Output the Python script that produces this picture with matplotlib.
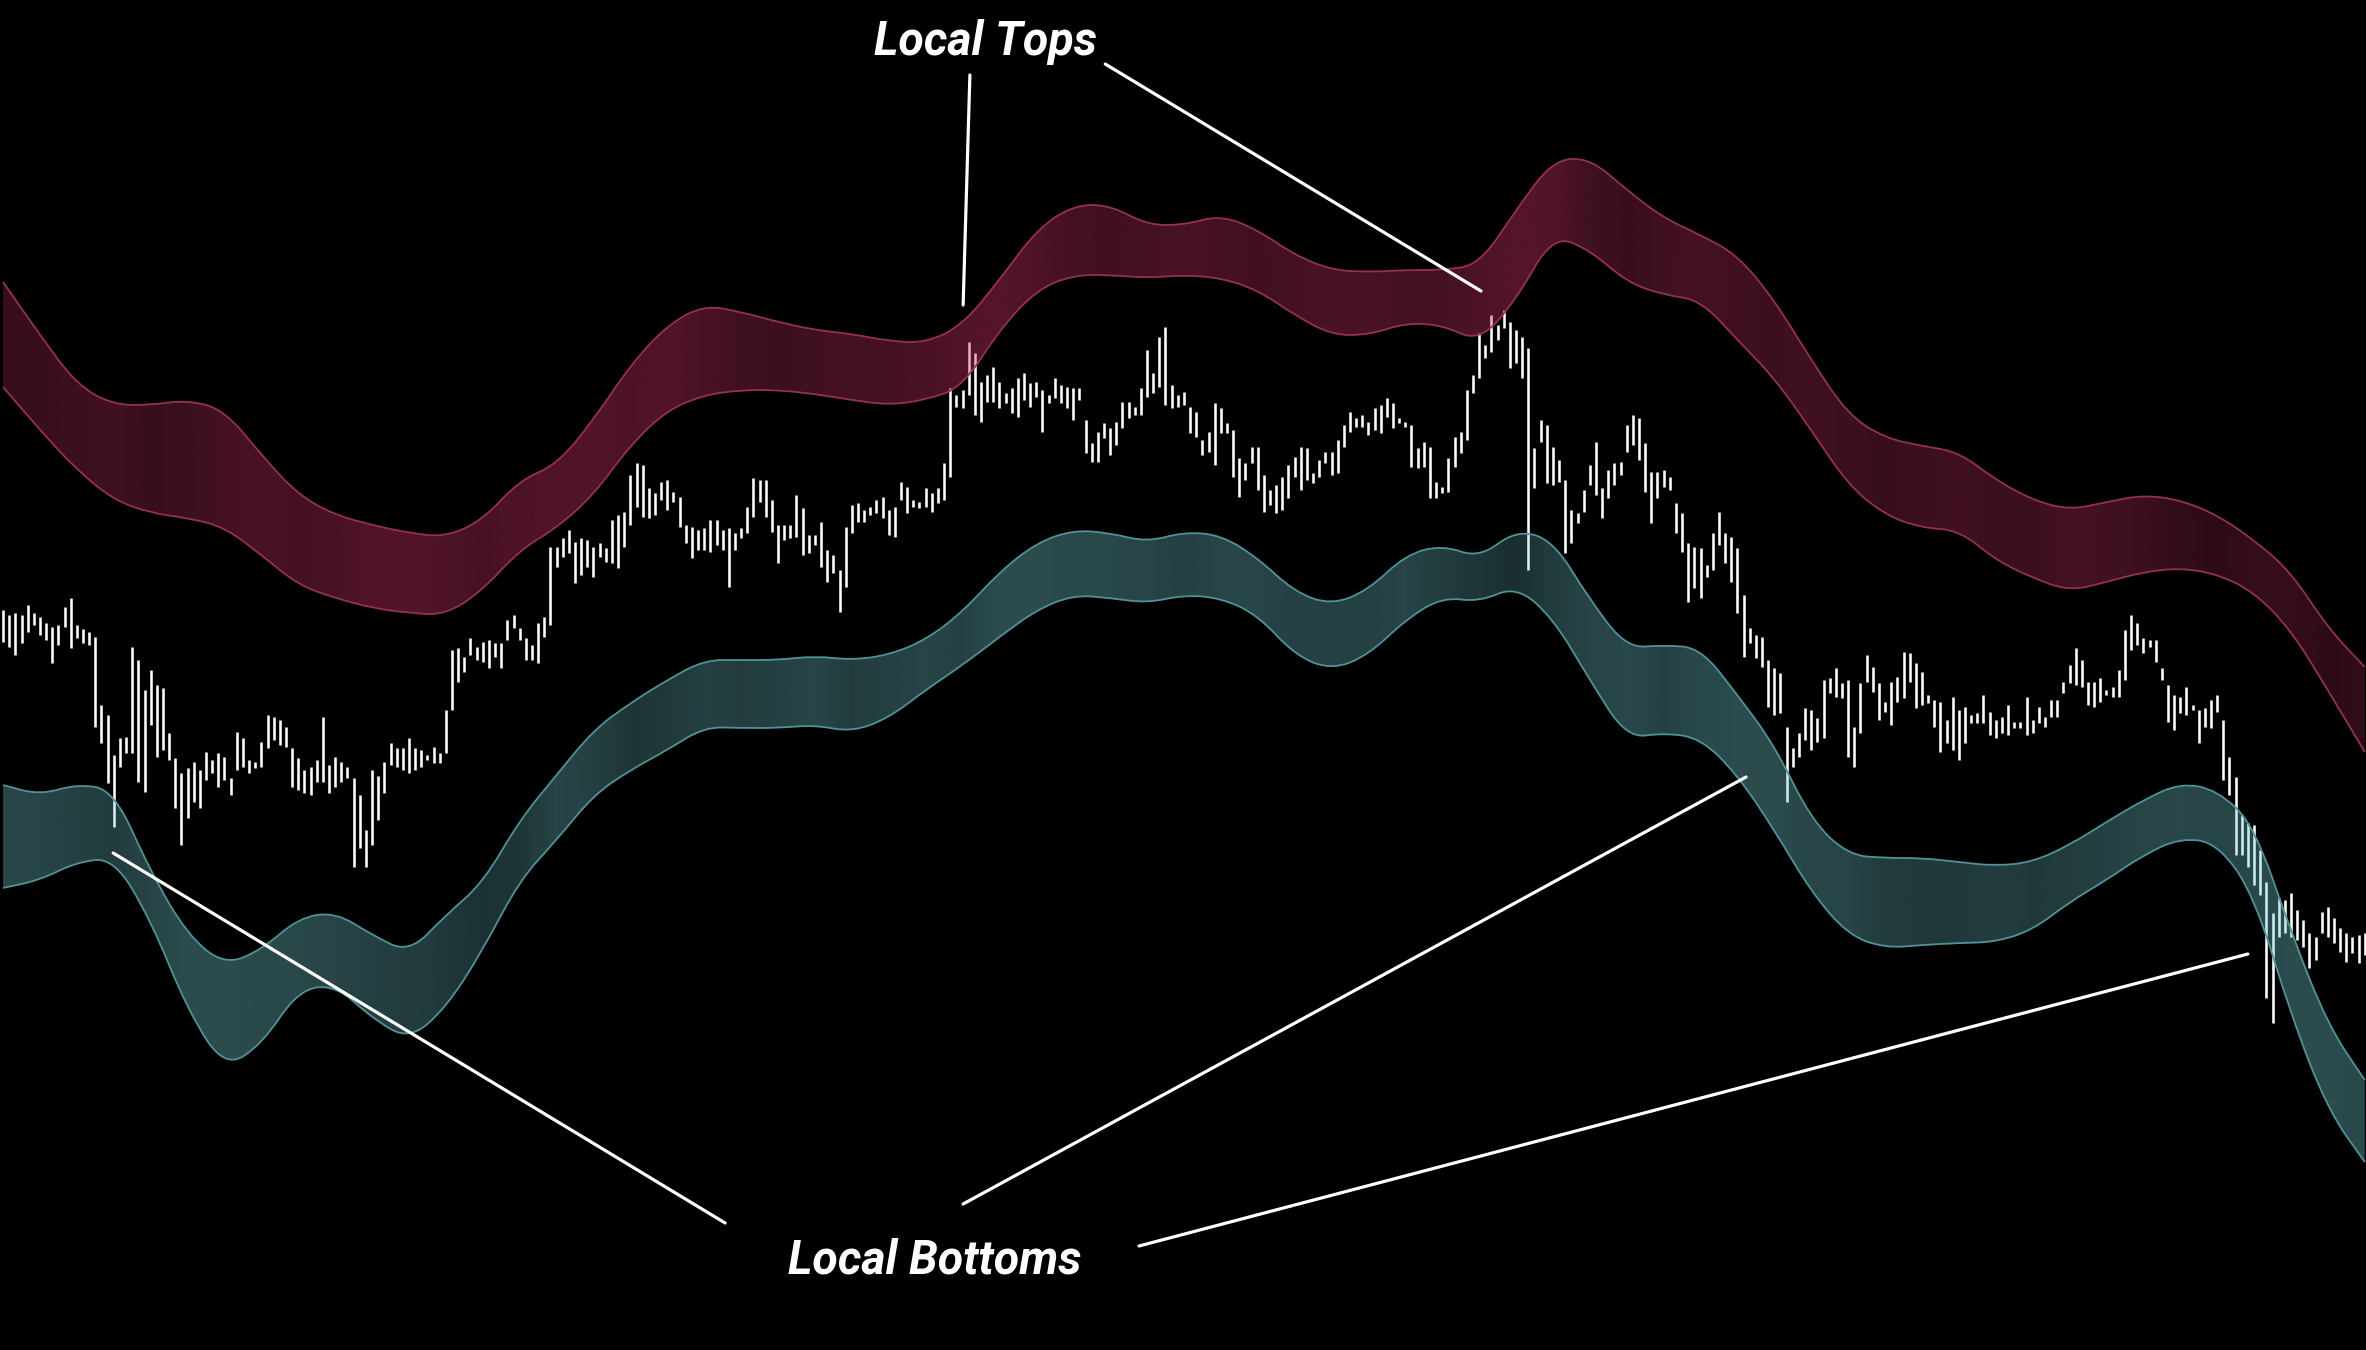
import numpy as np
import matplotlib.pyplot as plt
from matplotlib.path import Path
from matplotlib.patches import PathPatch
from matplotlib.colors import to_rgb

# price bars (one bar per index)
bar_high = [
    74.0, 73.5, 73.7, 73.5, 74.5, 73.7, 73.3, 72.7, 72.3, 72.5,
    74.3, 75.2, 72.5, 72.1, 71.8, 71.3, 64.5, 63.5, 59.5, 61.2,
    61.3, 70.3, 69.0, 66.0, 68.0, 66.5, 66.2, 61.7, 59.2, 57.7,
    58.2, 58.8, 58.0, 59.8, 59.0, 59.7, 59.3, 57.2, 61.8, 61.2,
    59.0, 58.8, 60.8, 63.5, 63.3, 63.0, 62.3, 60.2, 59.2, 58.0,
    58.3, 59.0, 63.3, 58.5, 59.3, 58.8, 58.3, 57.2, 55.5, 52.0,
    58.0, 57.4, 58.8, 60.7, 60.2,
    60.2, 61.2, 60.2, 60.0, 59.5, 60.3, 59.7, 64.0, 70.0, 70.2,
    69.3, 71.2, 70.3, 70.8, 71.0, 70.7, 70.7, 73.0, 73.5, 72.2,
    71.2, 70.5, 72.7, 73.3, 80.3, 80.3, 81.2, 82.0, 80.8, 81.2,
    81.0, 80.3, 80.7, 80.2, 83.0, 83.5, 83.8, 87.5, 88.7, 88.5,
    86.2, 85.7, 86.8, 87.0, 85.8, 85.3, 82.5, 82.3, 82.0, 82.2,
    83.0, 83.0, 82.0, 82.2, 81.7, 82.2, 84.3, 87.2, 87.0, 87.0,
    85.0, 82.5, 82.5, 82.5, 85.5,
    84.2, 81.5, 81.5, 82.8, 80.0, 79.5, 78.0, 82.3, 84.5, 84.7,
    84.0, 84.3, 85.0, 85.3, 84.0, 84.3, 86.8, 86.3, 85.0, 84.8,
    86.2, 85.7, 86.2, 88.7, 96.2, 95.5, 96.0, 100.8, 99.7, 96.8,
    97.5, 98.3, 96.8, 95.7, 96.2, 97.2, 97.7, 96.7, 96.8, 96.0,
    95.5, 97.2, 96.5, 96.3, 96.2, 96.2, 93.0, 90.7, 91.8, 92.7,
    92.2, 92.8, 94.8, 94.8, 94.3, 96.2, 100.0, 97.7, 101.3, 102.3,
    96.5, 95.5, 95.8, 94.3, 93.8,
    91.0, 91.8, 94.7, 94.2, 92.7, 92.0, 89.2, 88.7, 90.3, 90.3,
    87.5, 86.0, 86.5, 87.3, 88.5, 89.3, 90.3, 90.2, 87.7, 89.0,
    89.8, 89.8, 91.0, 92.5, 93.8, 93.2, 93.5, 92.8, 94.2, 94.5,
    95.2, 94.7, 93.2, 92.8, 92.5, 90.2, 90.8, 90.3, 86.8, 86.3,
    89.2, 91.3, 91.8, 96.0, 97.5, 101.7, 100.5, 103.5, 102.5, 104.0,
    102.8, 102.0, 101.3, 100.2, 90.2, 93.0, 92.5, 90.3, 89.0,
    87.0, 84.0, 83.7, 86.0, 88.5, 90.8, 86.2, 88.0, 88.7, 88.8,
    92.5, 93.5, 93.2, 90.7, 87.8, 87.8, 88.0, 87.3, 84.7, 83.7,
    80.7, 80.3, 80.2, 78.5, 81.7, 83.8, 81.7, 81.3, 80.2, 75.5,
    72.2, 71.5, 71.3, 69.0, 68.2, 67.7, 62.3, 60.2, 61.7, 64.2,
    64.0, 63.2, 67.0, 67.2, 68.2, 66.7, 67.0, 62.3, 66.7, 69.5,
    68.3, 66.7, 64.8, 66.8, 67.3, 69.8, 69.7, 68.7, 67.8, 65.5,
    65.0, 64.8, 63.0, 65.3,
    64.0, 64.3, 63.5, 63.7, 65.5, 63.8, 63.0, 63.3, 64.5, 62.8,
    62.8, 65.3, 63.0, 64.3, 63.3, 65.0, 65.0, 66.8, 68.5, 70.2,
    69.0, 66.8, 66.8, 67.2, 66.0, 66.3, 68.0, 72.0, 73.5, 72.7,
    71.2, 71.0, 71.0, 68.2, 66.5, 65.5, 65.3, 66.3, 64.5, 64.0,
    64.2, 65.0, 65.5, 63.0, 59.3, 57.3, 53.5, 52.7, 52.5, 50.0,
    46.8, 43.7, 45.2, 45.0, 45.7, 44.0, 43.0, 41.7, 41.3, 43.8,
    44.3, 43.2, 42.2, 41.7, 41.3, 41.5, 41.7,
]
bar_low = [
    70.8, 70.3, 69.5, 70.7, 71.8, 72.5, 71.5, 71.0, 68.7, 70.5,
    72.3, 70.2, 71.2, 70.7, 70.5, 62.3, 60.7, 56.7, 52.3, 58.3,
    59.7, 59.7, 56.8, 55.8, 62.5, 59.3, 60.0, 59.0, 54.2, 50.5,
    53.2, 54.8, 54.2, 57.0, 57.7, 56.3, 57.0, 55.5, 58.0, 58.3,
    57.7, 58.2, 58.3, 60.2, 61.0, 60.5, 60.3, 56.3, 56.0, 55.7,
    55.5, 56.8, 56.8, 55.7, 56.3, 56.8, 57.2, 48.3, 50.2, 48.3,
    50.5, 53.0, 55.7, 58.5, 58.3,
    58.0, 57.7, 58.0, 58.3, 59.0, 58.7, 58.7, 59.7, 64.0, 66.8,
    67.8, 69.5, 69.0, 68.8, 68.2, 69.3, 68.2, 71.0, 72.2, 71.0,
    69.0, 69.0, 68.7, 71.3, 72.5, 78.3, 79.3, 79.7, 76.7, 77.5,
    78.3, 77.3, 79.3, 78.8, 78.7, 78.2, 80.3, 82.5, 84.3, 83.3,
    83.2, 83.5, 85.0, 84.0, 84.8, 82.3, 80.7, 79.2, 80.0, 80.0,
    79.8, 80.5, 80.0, 76.3, 80.0, 81.2, 81.7, 83.3, 84.8, 83.3,
    81.8, 78.7, 81.0, 81.2, 81.3,
    79.5, 79.7, 80.5, 78.3, 76.8, 77.7, 73.8, 76.3, 81.7, 82.8,
    82.8, 83.5, 83.7, 83.2, 81.5, 81.3, 85.0, 83.7, 84.3, 84.2,
    84.3, 83.8, 84.7, 85.0, 87.3, 94.3, 94.2, 95.5, 93.5, 92.8,
    94.8, 94.8, 94.2, 94.7, 93.7, 93.3, 95.0, 94.3, 95.3, 91.8,
    94.7, 95.2, 94.7, 94.2, 93.0, 95.0, 89.7, 88.8, 88.8, 91.2,
    89.5, 90.5, 92.2, 93.2, 93.5, 93.5, 95.3, 95.7, 96.3, 94.5,
    94.2, 94.3, 94.5, 91.7, 91.3,
    89.5, 89.8, 88.5, 91.7, 91.7, 87.3, 85.3, 87.0, 88.7, 86.0,
    83.8, 84.5, 83.7, 84.0, 85.2, 87.3, 86.0, 87.0, 86.7, 87.3,
    88.7, 87.5, 87.7, 90.3, 91.8, 92.3, 92.3, 91.5, 92.0, 91.7,
    93.3, 92.2, 92.7, 92.3, 88.3, 88.2, 88.3, 85.2, 85.2, 85.7,
    85.8, 88.3, 89.7, 91.0, 95.7, 97.2, 99.2, 99.8, 101.0, 102.2,
    98.2, 98.7, 97.2, 78.0, 86.2, 90.8, 86.7, 86.5, 86.8,
    79.7, 80.7, 82.7, 83.8, 86.5, 85.5, 83.2, 85.2, 86.5, 87.5,
    89.8, 90.5, 89.0, 85.8, 82.7, 85.2, 86.3, 86.0, 81.7, 79.8,
    74.8, 76.2, 75.2, 77.3, 78.0, 80.5, 78.7, 76.8, 73.7, 69.3,
    70.7, 69.2, 68.3, 64.3, 63.5, 63.7, 54.8, 58.3, 59.3, 61.0,
    60.0, 60.8, 61.2, 65.7, 65.3, 65.2, 59.3, 58.3, 61.7, 66.8,
    65.8, 63.0, 63.8, 62.5, 64.8, 65.2, 66.8, 64.2, 64.5, 64.7,
    62.3, 59.8, 60.7, 60.0,
    59.0, 60.7, 62.7, 62.7, 62.7, 61.5, 61.2, 61.7, 61.5, 62.2,
    62.2, 61.5, 61.7, 62.7, 62.3, 63.3, 63.3, 65.7, 66.7, 66.5,
    66.3, 64.5, 64.3, 64.8, 65.5, 65.3, 65.3, 67.0, 70.0, 70.5,
    69.7, 70.3, 68.8, 67.0, 62.8, 62.0, 63.7, 63.5, 64.0, 60.7,
    62.3, 62.2, 63.8, 57.0, 55.5, 49.5, 49.5, 48.3, 46.5, 45.5,
    35.2, 32.7, 41.3, 41.7, 41.3, 41.0, 40.3, 38.2, 39.0, 41.7,
    41.3, 40.7, 39.8, 38.8, 39.7, 38.7, 39.5,
]

# band edges, sampled every 6 bars
band_x = list(range(0, 385, 6))
red_top = [
    106.8, 101.5, 96.5, 94.5, 94.5, 95.0, 94.0, 89.5, 85.5, 83.5,
    82.5, 81.7, 81.3, 83.0, 87.0, 88.5, 93.0, 98.5, 102.5, 104.5,
    103.8, 102.8, 102.0, 101.6, 100.9, 100.7, 102.5, 107.0, 112.0, 114.5,
    114.5, 112.5, 112.5, 113.5, 112.0, 109.5, 108.0, 107.8, 108.0, 108.0,
    108.5, 114.0, 119.0, 119.2, 116.0, 113.2, 111.5, 109.5, 105.0, 99.0,
    93.5, 91.2, 90.4, 89.8, 87.0, 85.0, 84.0, 84.8, 85.5, 85.0,
    83.5, 81.0, 77.8, 72.2, 68.3,
]
red_bottom = [
    96.3, 92.0, 88.0, 85.0, 83.7, 83.2, 82.3, 79.5, 76.5, 75.2,
    74.2, 73.7, 73.5, 76.0, 80.0, 82.2, 85.5, 90.5, 94.0, 95.5,
    96.0, 96.0, 95.6, 95.0, 94.5, 95.0, 96.3, 102.0, 106.0, 107.5,
    107.5, 107.2, 107.5, 107.2, 106.0, 103.5, 101.5, 101.5, 102.7, 102.5,
    100.8, 105.0, 111.5, 110.0, 106.8, 105.5, 105.0, 101.0, 97.2, 92.0,
    86.5, 83.5, 82.2, 82.0, 79.0, 77.2, 75.9, 76.8, 77.8, 78.2,
    77.6, 75.8, 72.0, 66.0, 59.8,
]
teal_top = [
    56.5, 55.5, 56.6, 56.0, 47.8, 41.5, 38.5, 40.0, 43.2, 43.8,
    41.5, 39.7, 43.5, 46.7, 53.0, 57.5, 62.0, 64.7, 67.0, 69.0,
    69.0, 69.0, 69.4, 69.0, 69.5, 71.0, 73.8, 77.8, 80.7, 82.0,
    81.7, 80.8, 81.8, 81.5, 79.2, 75.8, 74.5, 76.0, 79.5, 80.5,
    79.2, 82.0, 81.0, 75.0, 70.2, 70.5, 70.2, 65.5, 60.5, 53.0,
    49.5, 49.2, 49.2, 48.8, 48.4, 48.8, 50.5, 52.8, 55.0, 56.7,
    56.0, 52.5, 41.8, 32.5, 27.0,
]
teal_bottom = [
    46.2, 47.0, 48.8, 49.2, 43.0, 34.0, 28.2, 30.5, 36.0, 36.5,
    33.2, 31.0, 34.2, 40.0, 47.0, 51.0, 55.5, 58.0, 60.0, 62.3,
    62.2, 62.2, 62.5, 61.8, 63.2, 66.0, 68.5, 71.3, 74.0, 75.5,
    75.2, 74.7, 75.5, 75.2, 73.5, 69.5, 68.0, 69.5, 73.0, 75.3,
    74.8, 76.4, 73.2, 67.0, 61.2, 61.7, 61.2, 57.5, 52.0, 45.8,
    41.5, 40.2, 40.5, 40.7, 40.8, 42.0, 44.8, 47.0, 49.5, 51.2,
    50.7, 45.5, 33.5, 24.0, 18.8,
]
# brightness of the band fill along x (vertical shading stripes)
red_shade = [
    0.70, 0.70, 0.75, 0.80, 0.70, 0.75, 0.85, 0.90, 0.85, 0.90,
    1.00, 1.00, 0.95, 0.90, 0.95, 1.00, 1.00, 0.95, 1.00, 0.90,
    0.80, 0.75, 0.80, 0.85, 0.85, 0.90, 1.00, 1.05, 0.95, 0.85,
    0.80, 0.85, 0.90, 0.85, 0.80, 0.85, 0.90, 0.90, 0.85, 0.85,
    0.95, 1.05, 1.00, 0.80, 0.70, 0.80, 0.85, 0.80, 0.75, 0.80,
    0.75, 0.70, 0.75, 0.80, 0.75, 0.75, 0.85, 0.80, 0.75, 0.60,
    0.55, 0.65, 0.65, 0.55, 0.60,
]
teal_shade = [
    0.95, 0.90, 0.85, 0.80, 0.90, 1.00, 1.00, 0.95, 0.95, 0.90,
    0.85, 0.80, 0.75, 0.65, 0.70, 0.90, 0.85, 0.70, 0.75, 0.85,
    0.80, 0.85, 0.90, 0.80, 0.85, 0.90, 0.85, 1.00, 1.00, 0.95,
    0.95, 0.90, 0.85, 0.90, 0.90, 0.85, 0.85, 0.85, 0.90, 0.80,
    0.70, 0.60, 0.80, 0.90, 0.95, 0.85, 0.95, 1.00, 1.00, 0.90,
    0.90, 0.80, 0.75, 0.75, 0.80, 0.75, 0.80, 0.85, 0.90, 0.95,
    0.90, 0.95, 1.00, 1.00, 0.95,
]


def smooth_path(xs, ys, start=True):
    # quadratic curves through the midpoints, so the edge reads as a smooth line
    pts = np.column_stack([xs, ys]).astype(float)
    mids = (pts[:-1] + pts[1:]) / 2
    verts = [pts[0], mids[0]]
    codes = [Path.MOVETO if start else Path.LINETO, Path.LINETO]
    for i in range(1, len(pts) - 1):
        verts += [pts[i], mids[i]]
        codes += [Path.CURVE3, Path.CURVE3]
    verts.append(pts[-1])
    codes.append(Path.LINETO)
    return verts, codes


def draw_band(ax, top, bottom, shade, color, edge, alpha):
    v1, c1 = smooth_path(band_x, top)
    v2, c2 = smooth_path(band_x[::-1], bottom[::-1], start=False)
    outline = Path(v1 + v2 + [v1[0]], c1 + c2 + [Path.CLOSEPOLY])
    clip = PathPatch(outline, transform=ax.transData, facecolor='none', edgecolor='none')
    ax.add_patch(clip)

    rgba = np.zeros((1, len(shade), 4))
    rgba[..., :3] = to_rgb(color)
    rgba[..., 3] = np.clip(np.array(shade) * alpha, 0, 1)
    step = band_x[1] - band_x[0]
    im = ax.imshow(rgba, extent=(band_x[0] - step / 2, band_x[-1] + step / 2, 0, 135),
                   aspect='auto', interpolation='bilinear', zorder=3)
    im.set_clip_path(clip)

    for edge_vals in (top, bottom):
        v, c = smooth_path(band_x, edge_vals)
        ax.add_patch(PathPatch(Path(v, c), transform=ax.transData, facecolor='none',
                               edgecolor=edge, lw=1.3, zorder=4))


fig = plt.figure(figsize=(23.66, 13.5), dpi=100, facecolor='black')
ax = fig.add_axes([0, 0, 1, 1])
ax.set_facecolor('black')

x = np.arange(len(bar_high))
ax.vlines(x, bar_low, bar_high, colors='white', linewidth=1.85, zorder=2)

draw_band(ax, red_top, red_bottom, red_shade, '#cc3462', '#93305a', 0.40)
draw_band(ax, teal_top, teal_bottom, teal_shade, '#74c9cf', '#4f9398', 0.38)

# annotations
font = dict(family='Roboto', weight='bold', style='italic', size=33.5, color='white')
ax.text(159.7, 130.8, 'Local Tops', ha='center', va='center', zorder=6, **font)
ax.text(151.5, 9.0, 'Local Bottoms', ha='center', va='center', zorder=6, **font)

line_kw = dict(arrowprops=dict(arrowstyle='-', color='white', lw=2.3, shrinkA=0, shrinkB=0), zorder=5)
ax.annotate('', xy=(156.1, 104.5), xytext=(157.2, 127.5), **line_kw)
ax.annotate('', xy=(240.3, 105.9), xytext=(179.2, 128.6), **line_kw)
ax.annotate('', xy=(17.9, 49.7), xytext=(117.4, 12.7), **line_kw)
ax.annotate('', xy=(283.4, 57.3), xytext=(156.1, 14.6), **line_kw)
ax.annotate('', xy=(365.0, 39.6), xytext=(184.7, 10.4), **line_kw)

ax.set_xlim(-0.5, 384.2)
ax.set_ylim(0, 135)
ax.axis('off')

fig.savefig('out.png', dpi=100, facecolor='black')
